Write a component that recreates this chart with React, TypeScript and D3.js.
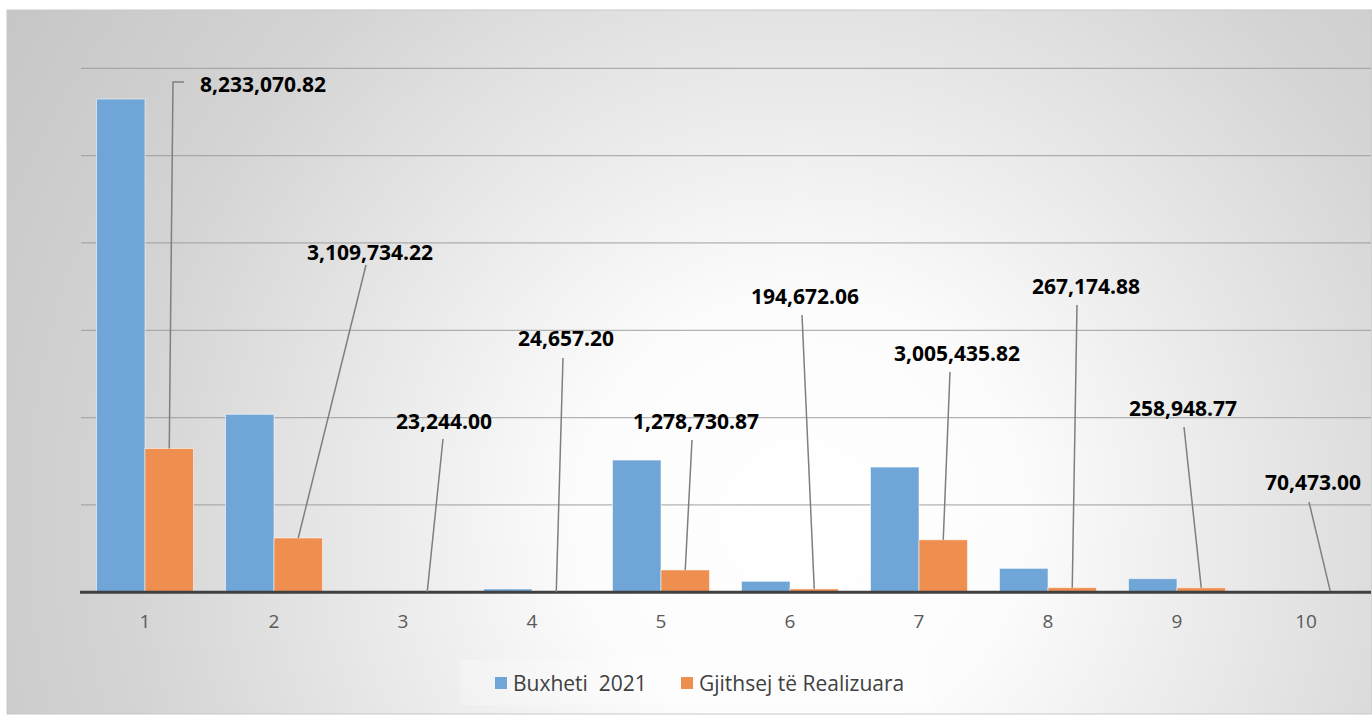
import React from "react";
import * as d3 from "d3";

const categories = ["1", "2", "3", "4", "5", "6", "7", "8", "9", "10"];
const budget2021 = [28240000, 10190000, 25000, 190000, 7570000, 630000, 7170000, 1370000, 780000, 75000];
const realized = [8233070.82, 3109734.22, 23244.0, 24657.2, 1278730.87, 194672.06, 3005435.82, 267174.88, 258948.77, 70473.0];
const gridTicks = [5000000, 10000000, 15000000, 20000000, 25000000, 30000000];
const seriesNames = ["Buxheti  2021", "Gjithsej të Realizuara"];

// layout for data-label annotations (label centre, leader end)
const labelPos: [number, number][] = [
  [263, 84], [370, 252], [444, 421], [566, 338], [696, 421],
  [805, 296], [957, 353], [1086, 286], [1183, 408], [1313, 482],
];
const leaderEnd: [number, number][] = [
  [173, 82], [366, 265], [443, 439], [563, 358], [692, 440],
  [802, 315], [950, 372], [1077, 305], [1184, 427], [1309, 502],
];

const W = 1372, H = 715;
const FONT = "'Open Sans', 'Liberation Sans', sans-serif";
const BLUE = "#6FA5D7";
const ORANGE = "#EE8E4F";

export default function App() {
  const x = d3.scaleBand<string>().domain(categories).range([80.5, 1370.5]).paddingInner(0).paddingOuter(0);
  const y = d3.scaleLinear().domain([0, 30000000]).range([592.3, 68.3]);
  const bw = 48.5;
  const fmt = d3.format(",.2f");

  return (
    <svg width={W} height={H} style={{ position: "absolute", left: 0, top: 0 }}>
      <defs>
        <radialGradient id="bg" gradientUnits="userSpaceOnUse" cx={800} cy={520} r={1000}>
          <stop offset="0" stopColor="#FFFFFF" />
          <stop offset="0.22" stopColor="#FCFCFC" />
          <stop offset="0.68" stopColor="#D4D4D4" />
          <stop offset="1" stopColor="#C3C3C3" />
        </radialGradient>
      </defs>
      <rect x={0} y={0} width={W} height={H} fill="#FFFFFF" />
      <rect x={7} y={10} width={W - 7} height={704} fill="url(#bg)" stroke="#C8C8C8" strokeWidth={1} />

      {gridTicks.map((t) => (
        <line key={t} x1={81} x2={1371} y1={y(t)} y2={y(t)} stroke="#9A9A9A" strokeOpacity={0.75} strokeWidth={1.3} />
      ))}

      {categories.map((c, i) => {
        const cx = (x(c) as number) + x.bandwidth() / 2;
        return (
          <g key={c}>
            <rect x={cx - bw} y={y(budget2021[i])} width={bw} height={y(0) - y(budget2021[i])}
              fill={BLUE} stroke="#FFFFFF" strokeOpacity={0.55} strokeWidth={1} />
            <rect x={cx} y={y(realized[i])} width={bw} height={y(0) - y(realized[i])}
              fill={ORANGE} stroke="#FFFFFF" strokeOpacity={0.55} strokeWidth={1} />
          </g>
        );
      })}

      <line x1={80} x2={1371} y1={592.3} y2={592.3} stroke="#404040" strokeWidth={3} />

      {categories.map((c) => (
        <text key={c} x={(x(c) as number) + x.bandwidth() / 2} y={628} textAnchor="middle"
          fontFamily={FONT} fontSize={19} fill="#595959">{c}</text>
      ))}

      {categories.map((c, i) => {
        const sx = (x(c) as number) + x.bandwidth() / 2 + bw / 2;
        const sy = y(realized[i]);
        const [ex, ey] = leaderEnd[i];
        const pts = i === 0 ? `${sx},${sy} ${ex},${ey} ${ex + 11},${ey}` : `${sx},${sy} ${ex},${ey}`;
        return (
          <g key={c}>
            <polyline points={pts} fill="none" stroke="#7F7F7F" strokeWidth={1.5} />
            <text x={labelPos[i][0]} y={labelPos[i][1] + 7.5} textAnchor="middle" fontFamily={FONT}
              fontWeight={700} fontSize={21} fill="#000000">{fmt(realized[i])}</text>
          </g>
        );
      })}

      <rect x={460} y={660} width={470} height={45} fill="#FFFFFF" fillOpacity={0.25} />
      <rect x={495} y={677} width={12} height={12} fill={BLUE} />
      <text x={513} y={690.5} fontFamily={FONT} fontSize={21} fill="#404040" style={{ whiteSpace: "pre" }}>{seriesNames[0]}</text>
      <rect x={681} y={677} width={12} height={12} fill={ORANGE} />
      <text x={699} y={690.5} fontFamily={FONT} fontSize={21} fill="#404040">{seriesNames[1]}</text>
    </svg>
  );
}
